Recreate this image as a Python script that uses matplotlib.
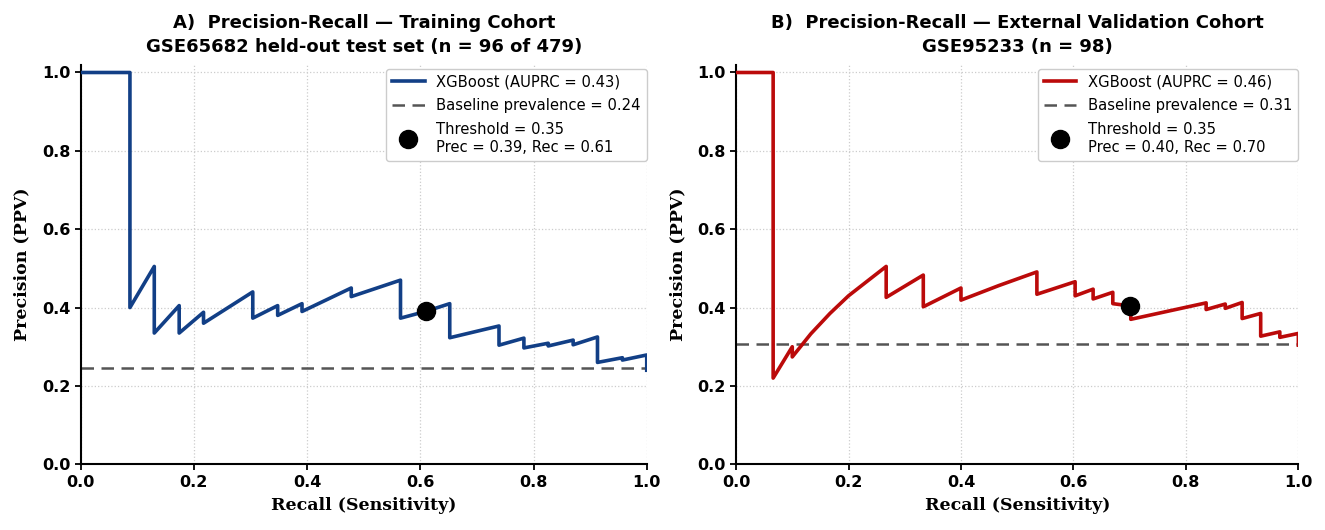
import matplotlib
matplotlib.use("Agg")
import matplotlib.pyplot as plt

# ---- data ----
recall_train = [0.0, 0.087, 0.087, 0.130, 0.130, 0.174, 0.174, 0.217, 0.217, 0.304, 0.304,
                0.348, 0.348, 0.391, 0.391, 0.478, 0.478, 0.565, 0.565, 0.609, 0.652, 0.652,
                0.739, 0.739, 0.783, 0.783, 0.826, 0.826, 0.870, 0.870, 0.913, 0.913,
                0.957, 0.957, 1.0, 1.0]
precision_train = [1.0, 1.0, 0.400, 0.505, 0.335, 0.405, 0.335, 0.388, 0.360, 0.440, 0.373,
                   0.405, 0.380, 0.410, 0.390, 0.450, 0.428, 0.470, 0.373, 0.390, 0.410, 0.323,
                   0.353, 0.304, 0.322, 0.297, 0.309, 0.302, 0.317, 0.305, 0.325, 0.260,
                   0.272, 0.266, 0.279, 0.240]

recall_ext = [0.0, 0.066, 0.066, 0.100, 0.100, 0.133, 0.167, 0.200, 0.233, 0.267, 0.267,
              0.333, 0.333, 0.400, 0.400, 0.467, 0.535, 0.535, 0.603, 0.603, 0.635, 0.635,
              0.670, 0.670, 0.702, 0.702, 0.836, 0.836, 0.870, 0.870, 0.900, 0.900,
              0.933, 0.933, 0.967, 0.967, 1.0, 1.0]
precision_ext = [1.0, 1.0, 0.220, 0.300, 0.274, 0.333, 0.385, 0.430, 0.467, 0.505, 0.426,
                 0.483, 0.402, 0.450, 0.419, 0.456, 0.491, 0.434, 0.466, 0.430, 0.447, 0.422,
                 0.439, 0.410, 0.404, 0.370, 0.412, 0.395, 0.409, 0.398, 0.413, 0.372,
                 0.385, 0.327, 0.338, 0.324, 0.334, 0.304]

baseline_train = 0.245
baseline_ext = 0.306
thr_point_train = (0.61, 0.39)
thr_point_ext = (0.70, 0.404)

titles = ["A)  Precision-Recall \u2014 Training Cohort\nGSE65682 held-out test set (n = 96 of 479)",
          "B)  Precision-Recall \u2014 External Validation Cohort\nGSE95233 (n = 98)"]
curve_labels = ["XGBoost (AUPRC = 0.43)", "XGBoost (AUPRC = 0.46)"]
baseline_labels = ["Baseline prevalence = 0.24", "Baseline prevalence = 0.31"]
thr_labels = ["Threshold = 0.35\nPrec = 0.39, Rec = 0.61",
              "Threshold = 0.35\nPrec = 0.40, Rec = 0.70"]
colors = ["#123f86", "#bb0a0a"]
ticks = [0.0, 0.2, 0.4, 0.6, 0.8, 1.0]

fig = plt.figure(figsize=(13.25, 5.3), dpi=100)
ax1 = fig.add_axes([0.0609, 0.124, 0.4272, 0.754])
ax2 = fig.add_axes([0.5555, 0.124, 0.4244, 0.754])

datasets = [(recall_train, precision_train, baseline_train, thr_point_train),
            (recall_ext, precision_ext, baseline_ext, thr_point_ext)]

for i, (ax, (r, p, base, thr)) in enumerate(zip([ax1, ax2], datasets)):
    ax.plot(r, p, color=colors[i], lw=2.6, label=curve_labels[i], zorder=3)
    ax.axhline(base, color="#555555", lw=1.8, ls=(0, (5, 3)), label=baseline_labels[i], zorder=2)
    ax.plot([thr[0]], [thr[1]], 'o', color="black", ms=13, label=thr_labels[i], zorder=5,
            linestyle="none")
    ax.set_xlim(0, 1.0)
    ax.set_ylim(0, 1.02)
    ax.set_xticks(ticks)
    ax.set_yticks(ticks)
    ax.set_xticklabels([f"{t:.1f}" for t in ticks], fontsize=11.5, fontweight="bold")
    ax.set_yticklabels([f"{t:.1f}" for t in ticks], fontsize=11.5, fontweight="bold")
    ax.grid(True, color="#cccccc", ls=":", lw=0.9)
    for s in ["top", "right"]:
        ax.spines[s].set_visible(False)
    for s in ["left", "bottom"]:
        ax.spines[s].set_linewidth(1.5)
        ax.spines[s].set_color("black")
    ax.tick_params(width=1.3, length=4)
    ax.set_xlabel("Recall (Sensitivity)", fontsize=12.5, fontweight="bold", family="DejaVu Serif",
                  labelpad=5)
    ax.set_ylabel("Precision (PPV)", fontsize=12.5, fontweight="bold", family="DejaVu Serif",
                  labelpad=8)
    ax.set_title(titles[i], fontsize=13, fontweight="bold", pad=9, linespacing=1.45)
    ax.legend(loc="upper right", bbox_to_anchor=(1.0, 0.99), borderaxespad=0,
              fontsize=10.6, frameon=True, framealpha=1.0, edgecolor="#cccccc",
              handlelength=2.2, labelspacing=0.6)

fig.savefig("out.png", dpi=100)
